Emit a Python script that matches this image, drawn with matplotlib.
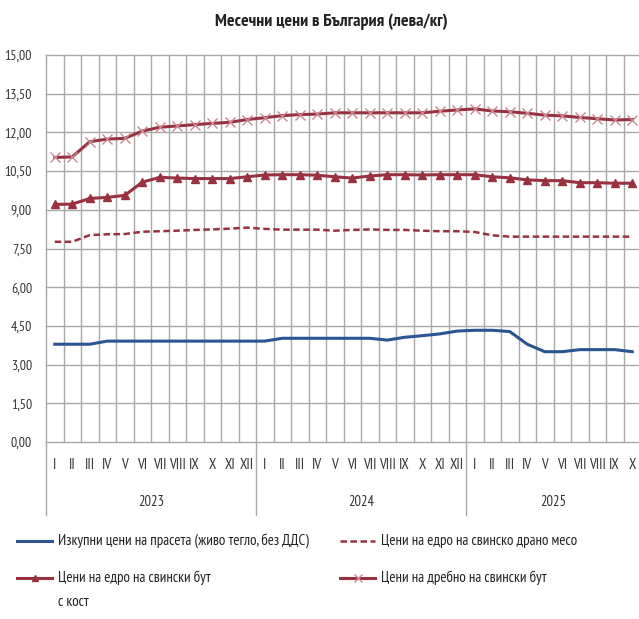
import numpy as np
import matplotlib
matplotlib.use('Agg')
import matplotlib.pyplot as plt
from matplotlib.lines import Line2D
from matplotlib.transforms import blended_transform_factory

plt.rcParams['font.family'] = ['PT Sans Narrow', 'Roboto Condensed', 'DejaVu Sans']

# data, leva/kg, Jan 2023 .. Oct 2025
years = ['2023', '2024', '2025']
months = ['I', 'II', 'III', 'IV', 'V', 'VI', 'VII', 'VIII', 'IX', 'X', 'XI', 'XII']
month_labels = months + months + months[:10]

live_pigs = [3.79, 3.79, 3.79, 3.91, 3.91, 3.91, 3.91, 3.91, 3.91, 3.91, 3.91, 3.91,
             3.91, 4.02, 4.02, 4.02, 4.02, 4.02, 4.02, 3.95, 4.06, 4.12, 4.19, 4.30,
             4.33, 4.33, 4.28, 3.79, 3.50, 3.50, 3.58, 3.58, 3.58, 3.50]
carcass = [7.76, 7.76, 8.02, 8.05, 8.06, 8.15, 8.17, 8.19, 8.22, 8.24, 8.27, 8.31,
           8.26, 8.23, 8.23, 8.23, 8.19, 8.22, 8.24, 8.22, 8.22, 8.19, 8.17, 8.17,
           8.14, 8.01, 7.96, 7.96, 7.96, 7.96, 7.96, 7.96, 7.96, 7.96]
ham_wholesale = [9.21, 9.22, 9.44, 9.48, 9.56, 10.07, 10.26, 10.23, 10.21, 10.21, 10.21, 10.28,
                 10.35, 10.36, 10.36, 10.34, 10.28, 10.23, 10.31, 10.36, 10.36, 10.35, 10.36, 10.36,
                 10.36, 10.28, 10.24, 10.16, 10.13, 10.13, 10.05, 10.05, 10.03, 10.03]
ham_retail = [11.03, 11.05, 11.64, 11.74, 11.77, 12.05, 12.20, 12.25, 12.30, 12.35, 12.39, 12.50,
              12.57, 12.65, 12.69, 12.71, 12.76, 12.76, 12.76, 12.76, 12.76, 12.76, 12.82, 12.87,
              12.91, 12.83, 12.80, 12.74, 12.67, 12.64, 12.58, 12.53, 12.48, 12.50]

labels = ['Изкупни цени на прасета (живо тегло, без ДДС)',
          'Цени на едро на свинско драно месо',
          'Цени на едро на свински бут\nс кост',
          'Цени на дребно на свински бут']

blue = '#2b5592'
red = '#993240'
styles = [dict(color=blue, lw=2.2),
          dict(color=red, lw=1.8, ls=(0, (2.6, 1.4))),
          dict(color=red, lw=2.2, marker='^', ms=6),
          dict(color=red, lw=2.2, marker='x', ms=7, mew=1.0, mec='#c98790')]

W, H = 639, 619
fig = plt.figure(figsize=(W / 100, H / 100), dpi=100)

ax = fig.add_axes([46 / W, 1 - 442 / H, 595 / W, 387 / H])
x = np.arange(len(month_labels))
for ys, st in zip([live_pigs, carcass, ham_wholesale, ham_retail], styles):
    ax.plot(x, ys, **st, zorder=3)

ax.set_xlim(-0.5, len(x) - 0.5)
ax.set_ylim(0, 15)
yt = np.arange(0, 15.01, 1.5)
ax.set_yticks(yt)
ax.set_yticklabels([f'{v:.2f}'.replace('.', ',') for v in yt], fontsize=10, color='#333333')
ax.set_xticks(np.arange(len(x) + 1) - 0.5)
ax.set_xticklabels([])
ax.tick_params(length=0, pad=10)
ax.grid(True, color='#a8a8a8', lw=1.0)
for gl in ax.get_ygridlines() + ax.get_xgridlines():
    gl.set_clip_on(False)
ax.set_axisbelow(True)
for s in ax.spines.values():
    s.set_visible(False)

# category labels under the plot
tr = blended_transform_factory(ax.transData, ax.transAxes)
for i, m in enumerate(month_labels):
    ax.text(i, -23 / 387, m, transform=tr, ha='center', va='center', fontsize=10.5, color='#333333')
starts = [0, 12, 24]
ends = [12, 24, len(x)]
for yr, a, b in zip(years, starts, ends):
    ax.text((a + b - 1) / 2, -60 / 387, yr, transform=tr, ha='center', va='center',
            fontsize=10.5, color='#333333')
for a in starts:
    ax.plot([a - 0.5, a - 0.5], [0, -73 / 387], transform=tr, color='#a8a8a8', lw=1.0, clip_on=False)

fig.text(331 / W, 1 - 22 / H, 'Месечни цени в България (лева/кг)', ha='center', va='center',
         fontsize=13, fontweight='bold', color='#222222')

# legend, drawn by hand
pos = [(17, 541), (340, 541), (17, 578), (340, 578)]
for (px, py), lab, st in zip(pos, labels, styles):
    line_st = {k: v for k, v in st.items() if k not in ('marker', 'ms', 'mew', 'mec')}
    fig.add_artist(Line2D([px / W, (px + 35) / W], [1 - py / H, 1 - py / H],
                          transform=fig.transFigure, **line_st))
    if 'marker' in st:
        fig.add_artist(Line2D([(px + 17.5) / W], [1 - py / H], transform=fig.transFigure, ls='none',
                              color=st['color'], marker=st['marker'], ms=st['ms'] - 1,
                              mew=st.get('mew', 1.0), mec=st.get('mec', st['color'])))
    for j, part in enumerate(lab.split('\n')):
        fig.text((px + 41) / W, 1 - (py + 24 * j) / H, part, ha='left', va='center',
                 fontsize=10.8, color='#222222')

fig.savefig('out.png', dpi=100)
